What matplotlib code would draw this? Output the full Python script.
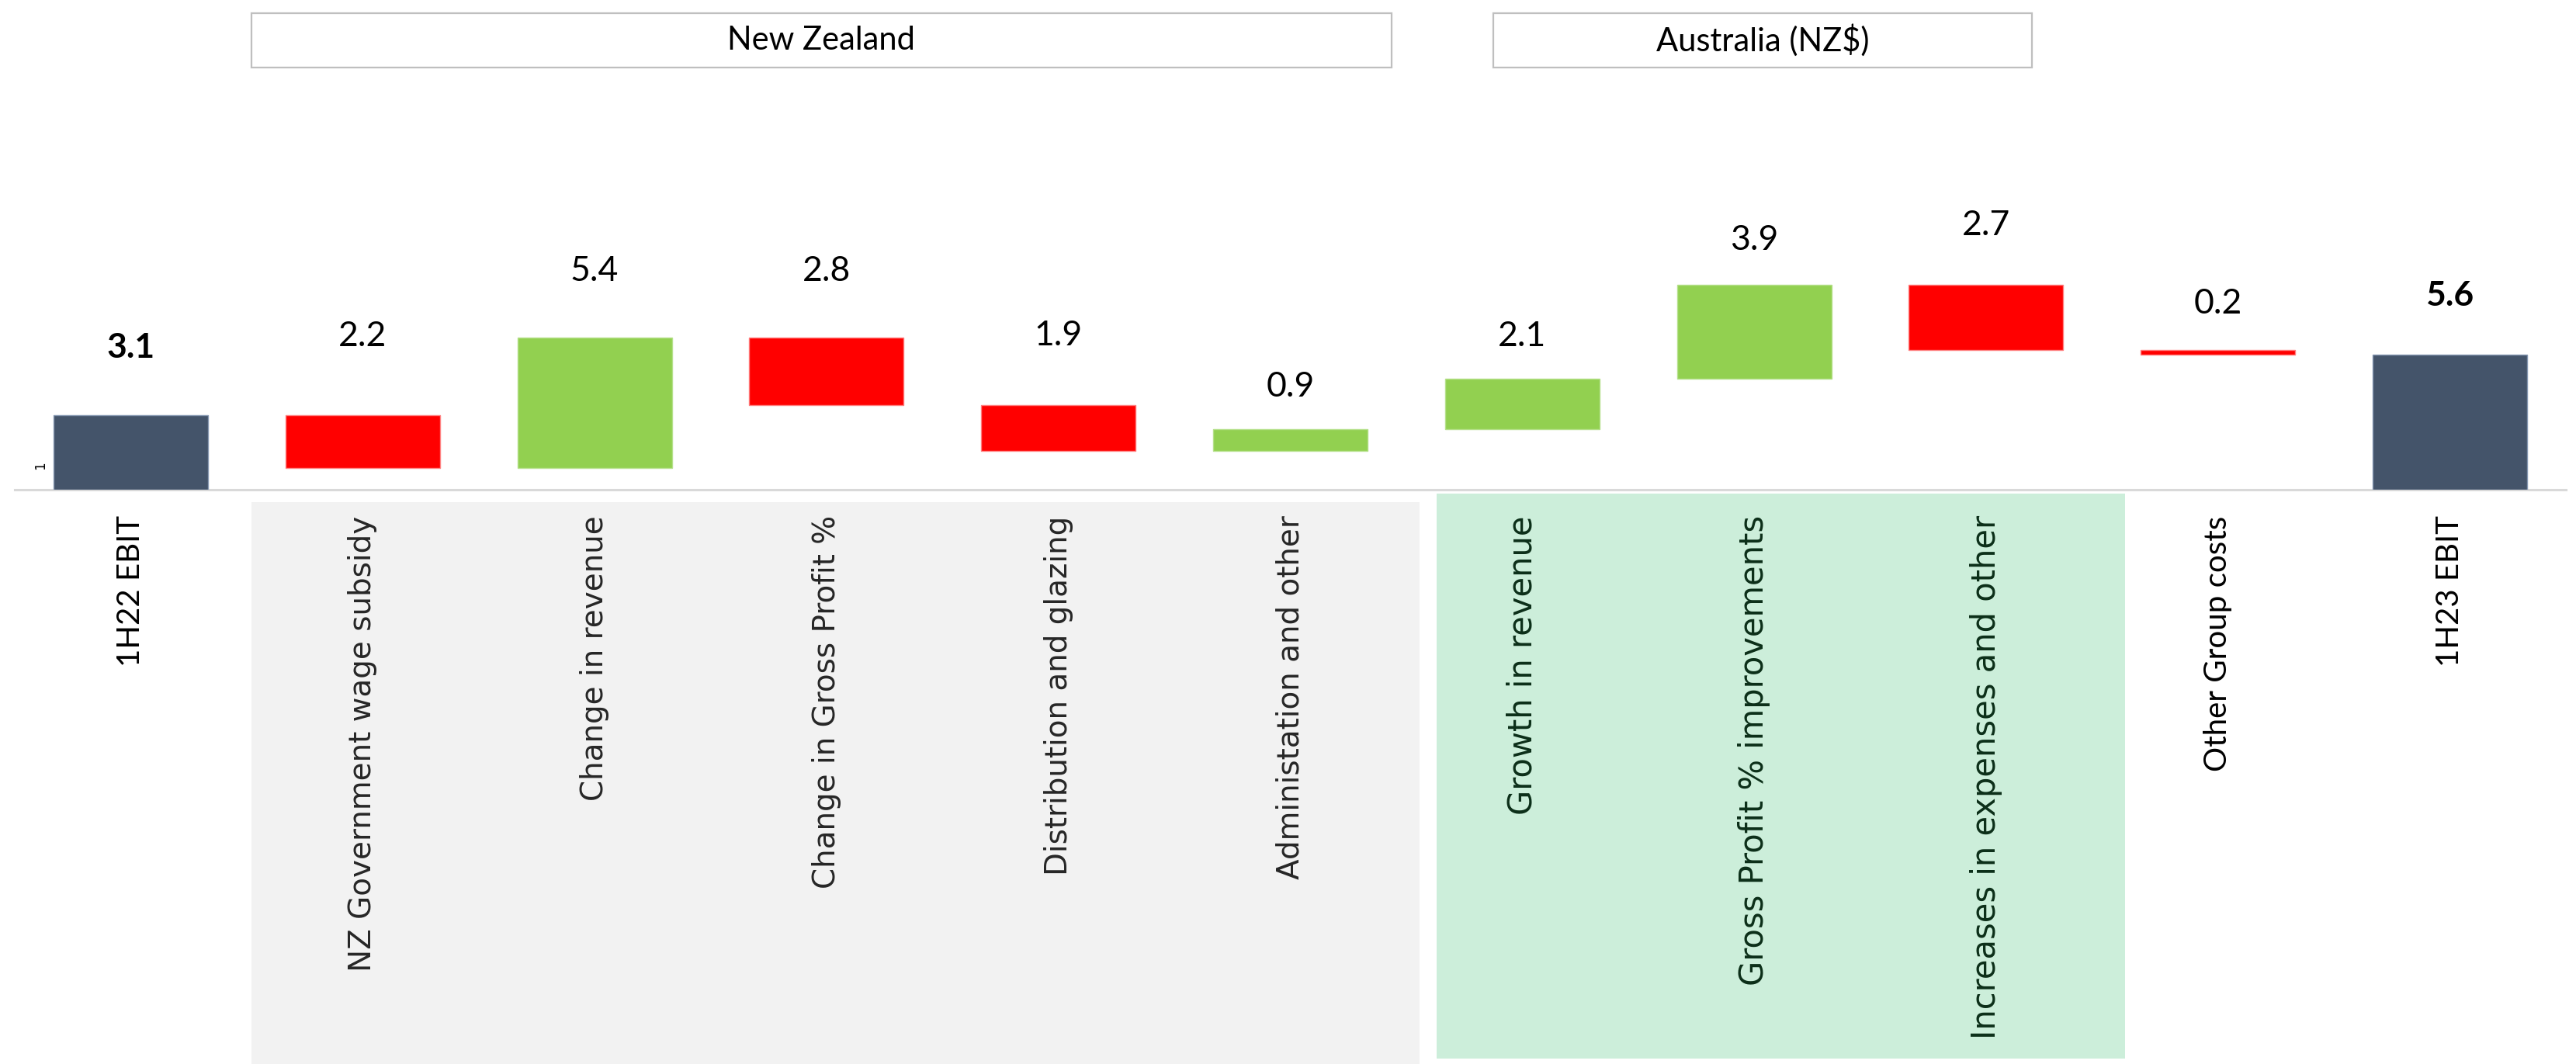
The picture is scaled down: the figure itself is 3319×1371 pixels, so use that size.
import numpy as np
import matplotlib
matplotlib.use("Agg")
import matplotlib.pyplot as plt
from matplotlib.patches import Rectangle
from matplotlib.transforms import blended_transform_factory

# --------------------------------------------------------------
# Data
# --------------------------------------------------------------
categories = [
    "1H22 EBIT",
    "NZ Government wage subsidy",
    "Change in revenue",
    "Change in Gross Profit %",
    "Distribution and glazing",
    "Administation and other",
    "Growth in revenue",
    "Gross Profit % improvements",
    "Increases in expenses and other",
    "Other Group costs",
    "1H23 EBIT",
]
changes = [3.1, -2.2, 5.4, -2.8, -1.9, 0.9, 2.1, 3.9, -2.7, -0.2, 5.6]
is_total = [True, False, False, False, False, False, False, False, False, False, True]
groups = ["total", "NZ", "NZ", "NZ", "NZ", "NZ", "AU", "AU", "AU", "other", "total"]

group_names = ["New Zealand", "Australia (NZ$)"]

# --------------------------------------------------------------
# Styling
# --------------------------------------------------------------
W, H, DPI = 3319, 1371, 100
c_total = "#44546A"
c_up = "#92D050"
c_down = "#FF0000"
# gap between bar top and value label (data units), as placed in the original
label_gap = [2.8, 3.25, 2.75, 2.75, 2.9, 1.75, 1.75, 1.85, 2.45, 1.9, 2.45]

fig = plt.figure(figsize=(W / DPI, H / DPI), dpi=DPI)
base_px = 631          # y pixel of the x axis
unit_px = 31.07        # pixels per unit
ax = fig.add_axes([19 / W, 1 - base_px / H, (3306 - 19) / W, base_px / H])
ax.set_facecolor("none")

# waterfall bottoms / heights
bottoms, heights, colors = [], [], []
running = 0.0
for v, tot in zip(changes, is_total):
    if tot:
        bottoms.append(0.0)
        heights.append(v)
        colors.append(c_total)
        running = v
    else:
        if v >= 0:
            bottoms.append(running)
            colors.append(c_up)
        else:
            bottoms.append(running + v)
            colors.append(c_down)
        heights.append(abs(v))
        running += v

x = np.arange(len(categories))
edge = ["#8496B0" if c == c_total else "#FF7F7F" if c == c_down else "#B5E08A" for c in colors]
ax.bar(x, heights, bottom=bottoms, width=0.666, color=colors, edgecolor=edge, linewidth=1.0, zorder=3)

# value labels
for i, (b, h) in enumerate(zip(bottoms, heights)):
    top = b + h
    ax.text(i, top + label_gap[i], f"{abs(changes[i]):.1f}", ha="center", va="center",
            fontsize=32, family=["Lato", "DejaVu Sans"],
            fontweight="bold" if is_total[i] else "normal", color="black")

ax.set_xlim(-0.5, len(categories) - 0.5)
ax.set_ylim(0, base_px / unit_px)

for s in ["top", "left", "right"]:
    ax.spines[s].set_visible(False)
ax.spines["bottom"].set_color("#D9D9D9")
ax.spines["bottom"].set_linewidth(2.2)

ax.set_yticks([1])
ax.set_yticklabels(["1"], rotation=90, fontsize=12, family="DejaVu Sans", va="center")
ax.tick_params(axis="y", length=0, pad=-30)

ax.set_xticks(x)
ax.set_xticklabels(categories, rotation=90, va="top", ha="center")
ax.tick_params(axis="x", length=0, pad=24)
for lab, g in zip(ax.get_xticklabels(), groups):
    if g == "NZ":
        lab.set_fontfamily("DejaVu Sans")
        lab.set_fontsize(28)
        lab.set_color("#262626")
    elif g == "AU":
        lab.set_fontfamily("DejaVu Sans")
        lab.set_fontsize(30)
        lab.set_color("#0B2E18")
    else:
        lab.set_fontfamily("Lato")
        lab.set_fontsize(29)
        lab.set_color("black")

# shaded group panels behind the labels
tr = blended_transform_factory(ax.transData, fig.transFigure)
panel_specs = [
    (0.520, 5.556, 647, H, "#F2F2F2"),
    (5.630, 8.598, 636, 1364, "#CCEEDA"),
]
for x0, x1, y0, y1, col in panel_specs:
    ax.add_patch(Rectangle((x0, 1 - y1 / H), x1 - x0, (y1 - y0) / H, transform=tr,
                           facecolor=col, edgecolor="none", clip_on=False, zorder=0))

# header boxes
header_specs = [(0.520, 5.436), (5.874, 8.199)]
for (x0, x1), name in zip(header_specs, group_names):
    ax.add_patch(Rectangle((x0, 1 - 87 / H), x1 - x0, 70 / H, transform=tr,
                           facecolor="white", edgecolor="#BFBFBF", linewidth=1.6,
                           clip_on=False, zorder=1))
    ax.text((x0 + x1) / 2, 1 - 52 / H, name, transform=tr, ha="center", va="center",
            fontsize=30, family=["Lato", "DejaVu Sans"], color="black")

fig.savefig("out.png", dpi=DPI, facecolor="white")
